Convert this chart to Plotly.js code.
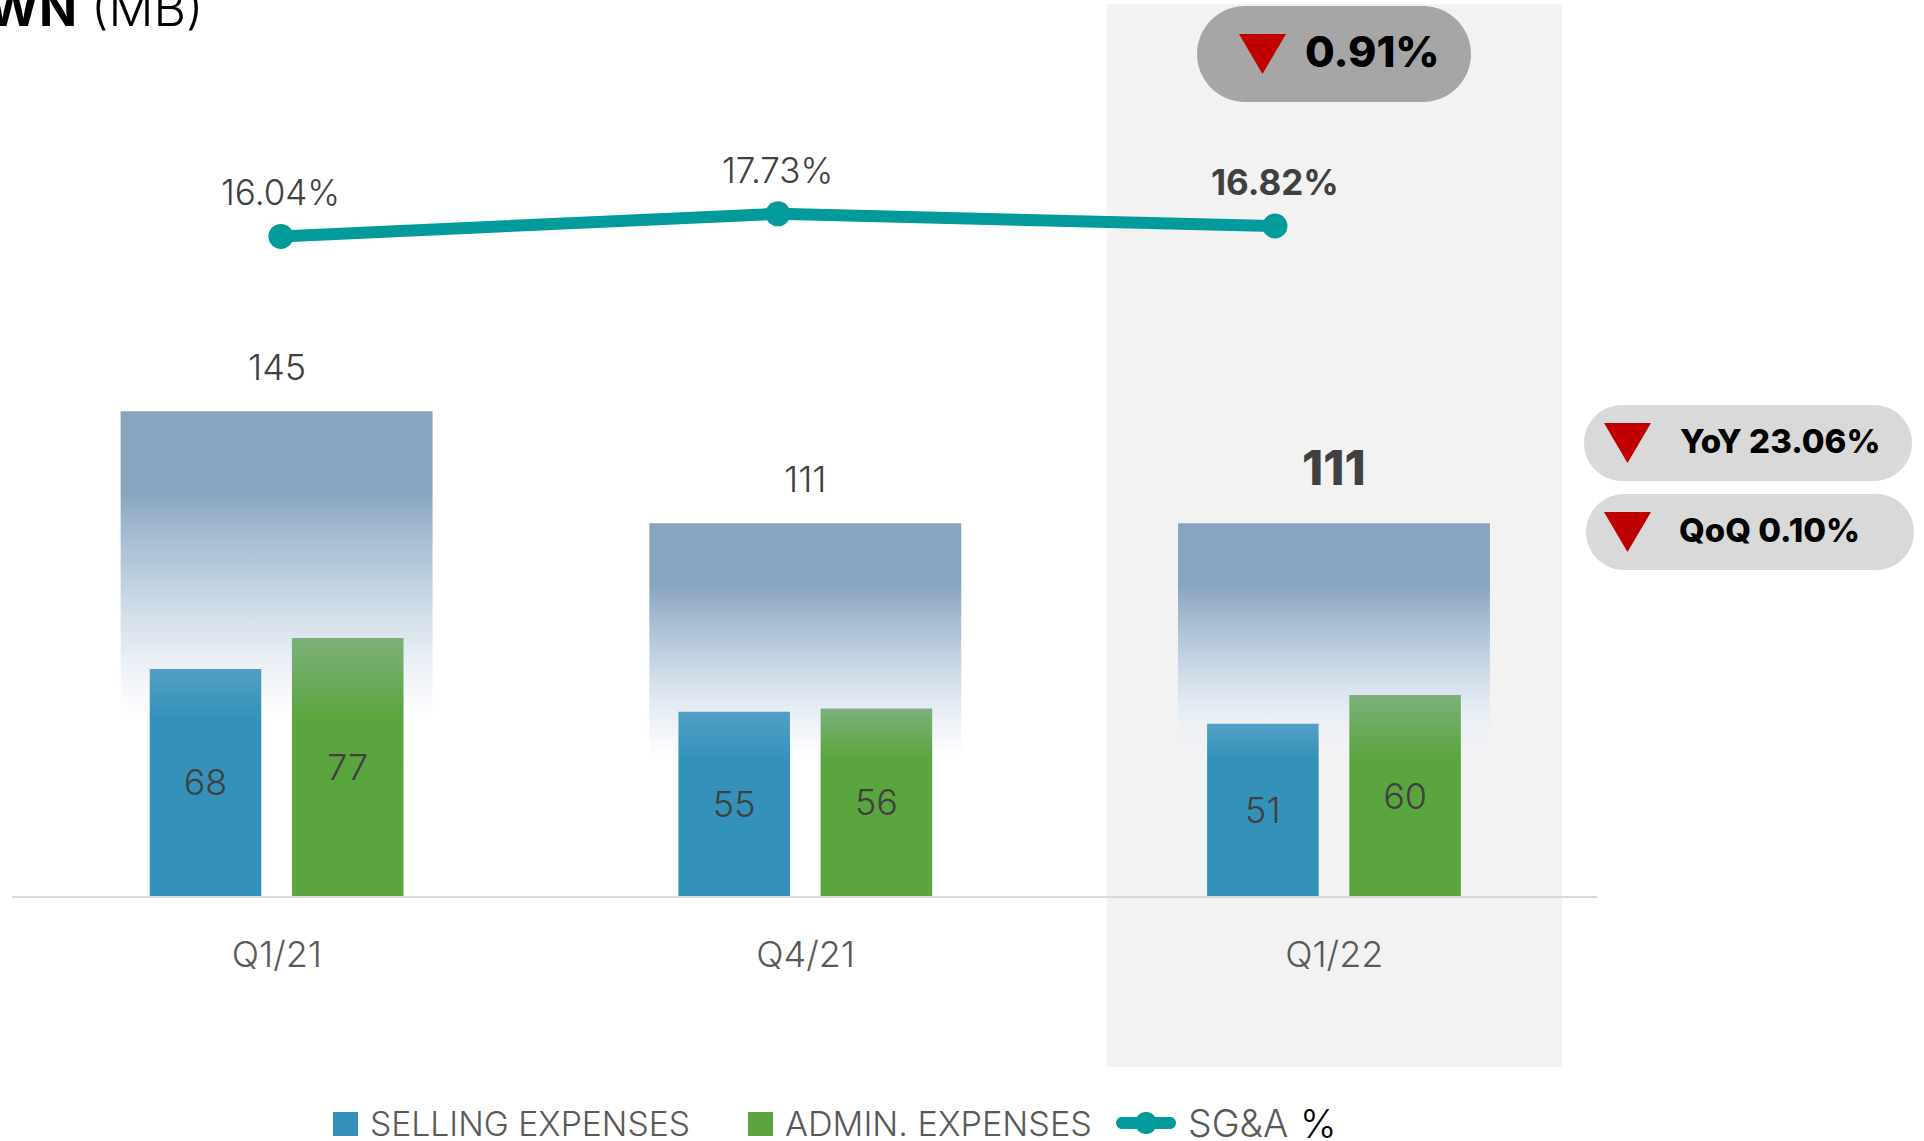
<!DOCTYPE html>
<html>
<head>
<meta charset="utf-8">
<script src="https://cdn.plot.ly/plotly-3.0.1.min.js"></script>
<style>html,body{margin:0;padding:0;background:#fff;overflow:hidden}</style>
</head>
<body>
<div id="chart" style="width:1924px;height:1141px"></div>
<script>
const categories = ['Q1/21', 'Q4/21', 'Q1/22'];
const sellingExpenses = [67.8, 55, 51.4];
const adminExpenses = [77, 56, 60];
const totalExpenses = [144.7, 111.3, 111.3];
const sgaPercent = [16.04, 17.73, 16.82];
const seriesNames = ['SELLING EXPENSES', 'ADMIN. EXPENSES', 'SG&A'];

const FONT = 'Inter, "Open Sans", sans-serif';
const PL = 12, PR = 1597, PB = 896;
const fx = p => (p - PL) / (PR - PL);
const fy = p => (PB - p) / PB;
const BLUE = '#3492BA', GREEN = '#5BA53F', TEAL = '#009B9A', DARK = '#404040', MID = '#595959', RED = '#C00000';
const FADE_END = 0.37;

function pill(x0, y0, x1, y1, color) {
  const r = (y1 - y0) / 2, k = r * 0.45;
  const P = (x, y) => fx(x) + ',' + fy(y);
  return {
    type: 'path', xref: 'paper', yref: 'paper', layer: 'below', fillcolor: color, line: {width: 0},
    path: 'M' + P(x0 + r, y0) + 'L' + P(x1 - r, y0) +
      'C' + P(x1 - k, y0) + ' ' + P(x1, y0 + k) + ' ' + P(x1, y0 + r) +
      'C' + P(x1, y1 - k) + ' ' + P(x1 - k, y1) + ' ' + P(x1 - r, y1) +
      'L' + P(x0 + r, y1) +
      'C' + P(x0 + k, y1) + ' ' + P(x0, y1 - k) + ' ' + P(x0, y0 + r) +
      'C' + P(x0, y0 + k) + ' ' + P(x0 + k, y0) + ' ' + P(x0 + r, y0) + 'Z'
  };
}
function tri(x0, y0, x1, y1) {
  return {type: 'path', xref: 'paper', yref: 'paper', fillcolor: RED, line: {width: 0},
    path: 'M' + fx(x0) + ',' + fy(y0) + 'L' + fx(x1) + ',' + fy(y0) + 'L' + fx((x0 + x1) / 2) + ',' + fy(y1) + 'Z'};
}
function rect(x0, y0, x1, y1, color, layer) {
  return {type: 'rect', xref: 'paper', yref: 'paper', x0: fx(x0), x1: fx(x1), y0: fy(y1), y1: fy(y0),
    fillcolor: color, line: {width: 0}, layer: layer || 'above'};
}
function label(text, x, y, size, color, anchor, weight) {
  return {text, xref: 'paper', yref: 'paper', x: fx(x), y: fy(y), xanchor: anchor || 'center', yanchor: 'middle',
    showarrow: false, borderpad: 0,
    font: {family: FONT, size, color, weight: weight || 300}};
}

const barText = {family: FONT, size: 36, color: DARK, weight: 300};
const traces = [
  {type: 'bar', x: categories, y: totalExpenses, width: 0.59, offset: -0.2955, marker: {color: '#88A5C0'},
   hoverinfo: 'skip', showlegend: false},
  {type: 'bar', name: seriesNames[0], x: categories, y: sellingExpenses, width: 0.211, offset: -0.2405,
   marker: {color: BLUE}, text: sellingExpenses.map(v => String(Math.round(v))), textposition: 'inside', insidetextanchor: 'middle',
   textangle: 0, constraintext: 'none', textfont: barText, showlegend: false},
  {type: 'bar', name: seriesNames[1], x: categories, y: adminExpenses, width: 0.211, offset: 0.0285,
   marker: {color: GREEN}, text: adminExpenses.map(v => String(Math.round(v))), textposition: 'inside', insidetextanchor: 'middle',
   textangle: 0, constraintext: 'none', textfont: barText, showlegend: false},
  {type: 'scatter', mode: 'lines+markers', name: seriesNames[2], x: categories, y: sgaPercent, xaxis: 'x2', yaxis: 'y2',
   line: {color: TEAL, width: 12}, marker: {color: TEAL, size: 25}, showlegend: false}
];

const annotations = [];
totalExpenses.forEach((v, i) => {
  const last = i === totalExpenses.length - 1;
  annotations.push({text: String(Math.round(v)), x: categories[i], y: v, xref: 'x', yref: 'y', yanchor: 'middle', showarrow: false,
    yshift: last ? 56 : 44, font: {family: FONT, size: last ? 48 : 36, color: DARK, weight: last ? 800 : 300}});
});
sgaPercent.forEach((v, i) => {
  const last = i === sgaPercent.length - 1;
  annotations.push({text: v.toFixed(2) + '%', x: categories[i], y: v, xref: 'x2', yref: 'y2', yanchor: 'middle', showarrow: false,
    yshift: 44, font: {family: FONT, size: 35, color: DARK, weight: last ? 700 : 300}});
});
annotations.push(
  label('0.91%', 1372, 51, 43, '#000000', 'center', 800),
  label('YoY 23.06%', 1780, 441, 33, '#000000', 'center', 800),
  label('QoQ 0.10%', 1769, 530, 33, '#000000', 'center', 800),
  label('<b>WN</b> <span style="font-weight:300">(MB)</span>', -14, 8, 50, '#000000', 'left', 300),
  label(seriesNames[0], 368.5, 1123, 33.7, MID, 'left'),
  label(seriesNames[1], 784, 1123, 34.2, MID, 'left'),
  label(seriesNames[2], 1187, 1123, 37.5, MID, 'left'),
  label('%', 1299, 1123, 39, '#000000', 'left')
);

const shapes = [
  rect(1107, 4, 1562, 1067, '#F2F2F2', 'below'),
  pill(1197, 6, 1471, 102, '#A6A6A6'),
  pill(1584, 405, 1912, 481, '#D9D9D9'),
  pill(1586, 494, 1914, 570, '#D9D9D9'),
  tri(1239, 34, 1286, 74),
  tri(1604, 423, 1651, 463),
  tri(1604, 512, 1651, 552),
  rect(333, 1112, 358, 1136, BLUE),
  rect(748, 1112, 773, 1136, GREEN),
  pill(1116, 1117, 1176, 1129, TEAL),
  {type: 'circle', xref: 'paper', yref: 'paper', x0: fx(1135), x1: fx(1157), y0: fy(1134), y1: fy(1112), fillcolor: TEAL, line: {width: 0}}
];
shapes[9].layer = 'above';

const layout = {
  width: 1924, height: 1141,
  margin: {l: PL, r: 1924 - PR, t: 0, b: 1141 - PB, pad: 0},
  paper_bgcolor: '#FFFFFF', plot_bgcolor: 'rgba(0,0,0,0)',
  barmode: 'overlay', showlegend: false,
  xaxis: {type: 'category', range: [-0.501, 2.497], showgrid: false, zeroline: false, showline: true, linecolor: '#D9D9D9', linewidth: 2,
          ticks: '', ticklabelstandoff: 26, tickfont: {family: FONT, size: 36, color: MID, weight: 300}},
  yaxis: {range: [0, 267.5], visible: false, showgrid: false, zeroline: false},
  xaxis2: {type: 'category', overlaying: 'x', range: [-0.541, 2.648], visible: false, showgrid: false, zeroline: false},
  yaxis2: {overlaying: 'y', range: [-33.29, 33.72], visible: false, showgrid: false, zeroline: false},
  shapes, annotations
};

Plotly.newPlot('chart', traces, layout, {displayModeBar: false, responsive: false}).then(gd => {
  const svg = gd.querySelector('.main-svg');
  const NS = 'http://www.w3.org/2000/svg';
  const defs = svg.querySelector('defs') || svg.insertBefore(document.createElementNS(NS, 'defs'), svg.firstChild);
  function grad(id, stops) {
    const g = document.createElementNS(NS, 'linearGradient');
    g.setAttribute('id', id);
    g.setAttribute('x1', '0'); g.setAttribute('y1', '0'); g.setAttribute('x2', '0'); g.setAttribute('y2', '1');
    stops.forEach(s => {
      const e = document.createElementNS(NS, 'stop');
      e.setAttribute('offset', s[0]); e.setAttribute('stop-color', s[1]); e.setAttribute('stop-opacity', s[2]);
      g.appendChild(e);
    });
    defs.appendChild(g);
  }
  grad('gTotal', [[0, '#88A5C0', 1], [0.17, '#88A5C0', 1], [0.24, '#A0B8CE', 1], [0.30, '#B0C5D9', 1], [0.39, '#CBD9E6', 1],
                  [0.46, '#DCE6EF', 1], [0.53, '#EBF0F6', 0.9], [0.63, '#EBF0F6', 0], [1, '#EBF0F6', 0]]);
  const tops = {1: ['#52A0C3', BLUE, sellingExpenses], 2: ['#7DB07C', GREEN, adminExpenses]};
  gd.querySelectorAll('.barlayer .trace.bars').forEach((t, i) => {
    t.querySelectorAll('.point > path').forEach((p, j) => {
      let id = 'gTotal';
      if (i > 0) {
        id = 'gBar' + i + '_' + j;
        const [tint, solid, vals] = tops[i];
        const stop = Math.max(0.05, 1 - FADE_END * totalExpenses[j] / vals[j]);
        grad(id, [[0, tint, 1], [stop, solid, 1], [1, solid, 1]]);
      }
      p.style.fill = 'url(#' + id + ')';
    });
  });
});
</script>
</body>
</html>
